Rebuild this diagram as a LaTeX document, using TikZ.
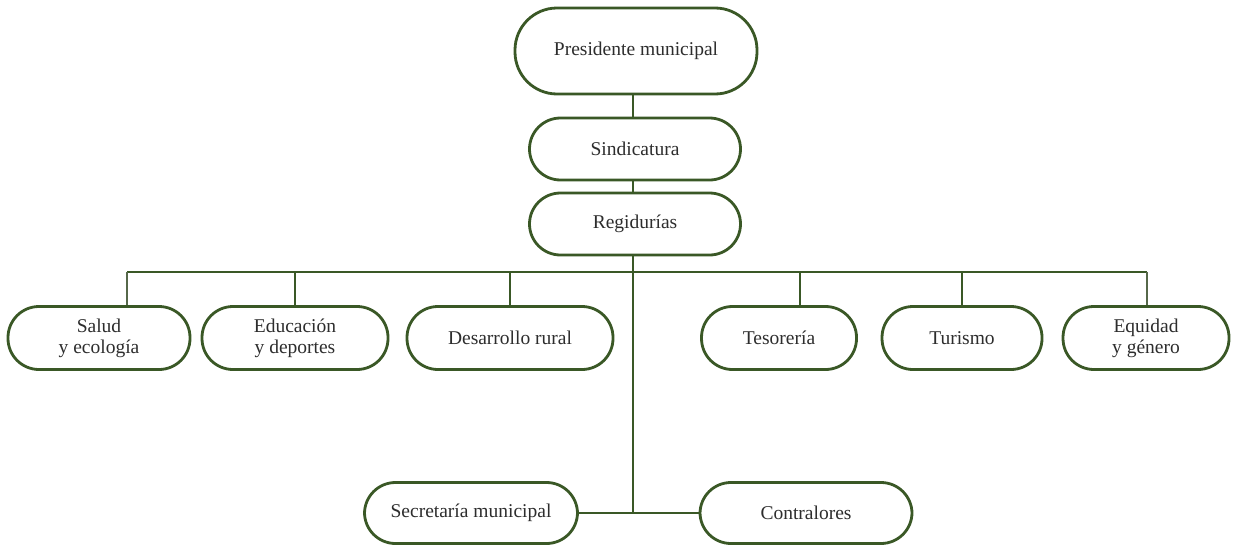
\documentclass[tikz,border=0pt]{standalone}
\usepackage{fontspec}
\setmainfont{Liberation Serif}
\definecolor{org}{RGB}{58,88,38}
\definecolor{txt}{RGB}{45,45,45}
\begin{document}
\begin{tikzpicture}[x=1pt,y=-1pt,
  box/.style={draw=org,line width=2.8pt,rounded corners=31pt,fill=white,
    text=txt,align=center,font=\fontsize{19.5}{21}\selectfont,inner sep=0pt},
  link/.style={draw=org,line width=2.8pt},
  glink/.style={draw=org!60!gray,line width=2.8pt}]
\useasboundingbox (0,0) rectangle (1233,546);
% top chain
\node[box,rounded corners=42pt,minimum width=242pt,minimum height=86pt] (pres) at (636,51) {Presidente municipal};
\node[box,minimum width=211pt,minimum height=62pt] (sind) at (635,149) {Sindicatura};
\node[box,minimum width=211pt,minimum height=62pt] (reg) at (635,224) {Regidurías};
% second row
\node[box,minimum width=182pt,minimum height=63pt] (salud) at (99,338) {Salud\\y ecología};
\node[box,minimum width=186pt,minimum height=63pt] (edu) at (295,338) {Educación\\y deportes};
\node[box,minimum width=206pt,minimum height=63pt] (desa) at (510,338) {Desarrollo rural};
\node[box,minimum width=155pt,minimum height=63pt] (teso) at (779,338) {Tesorería};
\node[box,minimum width=160pt,minimum height=63pt] (tur) at (962,338) {Turismo};
\node[box,minimum width=166pt,minimum height=63pt] (equi) at (1146,338) {Equidad\\y género};
% bottom row
\node[box,minimum width=213pt,minimum height=61pt] (sec) at (471,513) {Secretaría municipal};
\node[box,minimum width=212pt,minimum height=61pt] (contr) at (806,513) {Contralores};
% bus coordinates
\coordinate (busL) at (127,272);
\coordinate (busR) at (1147,272);
\coordinate (busC) at (633,272);
\coordinate (tdrop) at (800,272);
\coordinate (junc) at (633,513);
% connectors
\draw[link] (pres.south -| busC) -- (sind.north -| busC);
\draw[link] (sind.south -| busC) -- (reg.north -| busC);
\draw[link] (busL) -- (busR);
\draw[link] (reg.south -| busC) -- (junc);
\draw[glink] (busL) -- (busL |- salud.north);
\draw[link] (busL -| edu.north) -- (edu.north);
\draw[link] (busL -| desa.north) -- (desa.north);
\draw[link] (tdrop) -- (tdrop |- teso.north);
\draw[link] (busL -| tur.north) -- (tur.north);
\draw[glink] (busR) -- (busR |- equi.north);
\draw[link] (sec.east) -- (contr.west);
\end{tikzpicture}
\end{document}
